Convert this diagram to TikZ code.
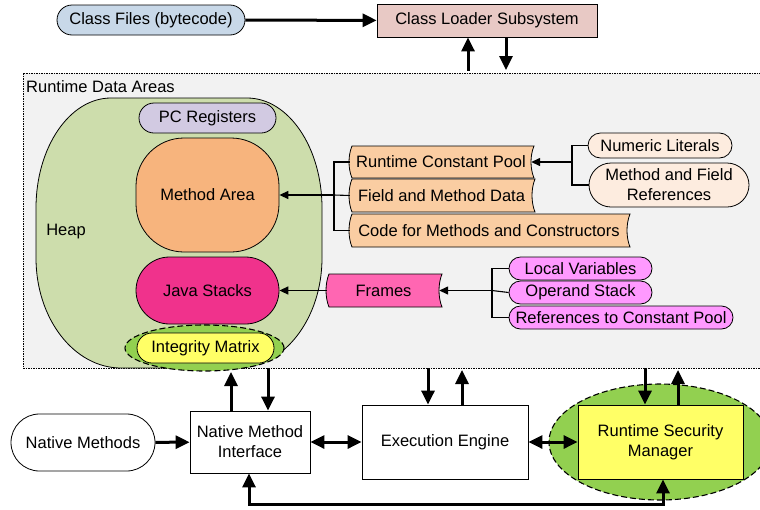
\documentclass[tikz,border=0pt]{standalone}
\usepackage{fontspec}
\setmainfont{Liberation Sans}
\usetikzlibrary{arrows.meta,shapes.geometric,shapes.misc,calc}

\definecolor{areagray}{RGB}{242,242,242}
\definecolor{heapgreen}{RGB}{205,221,172}
\definecolor{pclav}{RGB}{210,202,226}
\definecolor{methorange}{RGB}{247,180,125}
\definecolor{stackpink}{RGB}{240,50,140}
\definecolor{ringgreen}{RGB}{146,208,80}
\definecolor{softyellow}{RGB}{255,255,102}
\definecolor{poolpeach}{RGB}{250,205,162}
\definecolor{litpeach}{RGB}{253,236,223}
\definecolor{framepink}{RGB}{255,102,178}
\definecolor{varpink}{RGB}{255,153,255}
\definecolor{cfblue}{RGB}{200,216,232}
\definecolor{loaderrose}{RGB}{232,201,197}

\tikzset{
  box/.style={draw, line width=0.8pt, inner sep=0pt, align=center},
  pill/.style={box, rounded rectangle},
  ring/.style={draw, ellipse, dash pattern=on 6pt off 3pt, line width=1.1pt, fill=ringgreen, inner sep=0pt},
  bigtip/.tip={Triangle[length=14pt,width=13pt]},
  bigarrow/.style={line width=3pt, -bigtip},
  bigboth/.style={line width=3pt, bigtip-bigtip},
  thinline/.style={line width=1.1pt},
  thinarrow/.style={line width=1.4pt, -{Triangle[length=9pt,width=8pt]}},
  bannerline/.style={draw, line width=0.8pt},
}

% curved-sided banner: name, left, top, right, bottom, fill, text
\newcommand\tapebox[7]{%
  \draw[bannerline, fill=#6]
    ({#2+2},{#3}) .. controls ({#2-2},{#3+0.3*(#5-#3)}) and ({#2-2},{#5-0.3*(#5-#3)}) .. ({#2+2},{#5})
    -- ({#4+2},{#5}) .. controls ({#4-2},{#5-0.3*(#5-#3)}) and ({#4-2},{#3+0.3*(#5-#3)}) .. ({#4+2},{#3}) -- cycle;
  \node[inner sep=0pt, minimum width={(#4-#2)*1pt}, minimum height={(#5-#3)*1pt}]
    (#1) at ({(#2+#4)/2},{(#3+#5)/2}) {#7};
}

\begin{document}
\begin{tikzpicture}[x=1pt, y=-1pt, font=\fontsize{16.5}{20}\selectfont]
\useasboundingbox (0,0) rectangle (760,509);

% class files and loader
\node[pill, fill=cfblue, minimum width=188pt, minimum height=30pt] (cf) at (151,20) {Class Files (bytecode)};
\node[box, fill=loaderrose, minimum width=220pt, minimum height=33pt] (cls) at (487,20.5) {Class Loader Subsystem};
\draw[bigarrow] (cf) -- (cls);

% runtime data areas
\node[draw, fill=areagray, line width=0.6pt, dash pattern=on 1.5pt off 1pt,
      minimum width=750pt, minimum height=295pt, inner sep=0pt] (rda) at (398,220.5) {};
\node[anchor=west, inner sep=0pt] (rdalbl) at (26,87) {Runtime Data Areas};

% heap
\draw[line width=0.8pt, fill=heapgreen]
  (36,208) .. controls (36,147.3) and (69.6,98) .. (111,98)
  -- (247,98) .. controls (288.4,98) and (322,147.3) .. (322,208)
  -- (322,258) .. controls (322,318.7) and (283.9,368) .. (237,368)
  -- (121,368) .. controls (74.1,368) and (36,318.7) .. (36,258) -- cycle;
\node[inner sep=0pt] (heaplbl) at (66,232) {Heap};

\node[pill, fill=pclav, minimum width=137pt, minimum height=30pt] (pc) at (207.5,118) {PC Registers};
\node[box, fill=methorange, rounded corners=48pt, minimum width=143pt, minimum height=114pt] (meth) at (207.5,195) {Method Area};
\node[pill, fill=stackpink, minimum width=143pt, minimum height=67pt] (js) at (207.5,290.5) {Java Stacks};
\node[ring, minimum width=159pt, minimum height=46pt] (imring) at (204.5,348) {};
\node[pill, fill=softyellow, minimum width=137pt, minimum height=30pt] (im) at (205.5,348) {Integrity Matrix};

% method area contents
\tapebox{rcp}{350}{146}{532}{178}{poolpeach}{Runtime Constant Pool}
\tapebox{fmd}{350}{179}{533}{212}{poolpeach}{Field and Method Data}
\tapebox{code}{350}{214}{628}{247}{poolpeach}{Code for Methods and Constructors}
\coordinate (jm) at (334,195);
\draw[thinline] (rcp.west) -| (jm) |- (code.west);
\draw[thinline] (fmd.west) -- (jm);
\draw[thinarrow] (jm) -- (meth.east);

\node[pill, fill=litpeach, minimum width=144pt, minimum height=25pt] (lit) at (660,145.5) {Numeric Literals};
\node[pill, fill=litpeach, minimum width=160pt, minimum height=44pt] (refs) at (669,185) {Method and Field\\References};
\coordinate (jp) at (572,162);
\draw[thinline] (lit.west) -| (jp) |- (refs.west);
\draw[thinarrow] (jp) -- ($(rcp.east)+(-1,0)$);

% java stacks contents
\tapebox{fr}{327}{274}{440}{307}{framepink}{Frames}
\draw[thinarrow] (fr.west) -- (js.east);
\node[pill, fill=varpink, minimum width=143pt, minimum height=23pt] (lv) at (580.5,268.5) {Local Variables};
\node[pill, fill=varpink, minimum width=143pt, minimum height=23pt] (os) at (580.5,292.5) {Operand Stack};
\node[pill, fill=varpink, minimum width=224pt, minimum height=23pt] (rcpref) at (621,317.5) {References to Constant Pool};
\coordinate (jf) at (492,290.5);
\draw[thinline] (lv.west) -| (jf) |- (rcpref.west);
\draw[thinline] (os.west) -- (jf);
\draw[thinarrow] (jf) -- ($(fr.east)+(-1,0)$);

% execution components
\node[pill, fill=white, minimum width=144pt, minimum height=57pt] (nm) at (83,442.5) {Native Methods};
\node[box, fill=white, minimum width=120pt, minimum height=62pt] (nmi) at (250,442) {Native Method\\Interface};
\node[box, fill=white, minimum width=166pt, minimum height=74pt] (ee) at (445,442) {Execution Engine};
\node[ring, minimum width=222pt, minimum height=116pt] (rsmring) at (660,442) {};
\node[box, fill=softyellow, minimum width=165pt, minimum height=74pt] (rsm) at (660.5,442) {Runtime Security\\Manager};

\draw[bigarrow] (nm) -- (nmi);
\draw[bigboth] (nmi) -- (ee);
\draw[bigboth] (ee) -- (rsm);

% links to the loader and the data areas
\coordinate (clu) at (468,71);
\coordinate (cld) at (506,70);
\draw[bigarrow] (clu) -- (clu |- cls.south);
\draw[bigarrow] (cld |- cls.south) -- (cld);

\coordinate (nu) at (231,372);
\coordinate (nd) at (268,368);
\draw[bigarrow] (nu |- nmi.north) -- (nu);
\draw[bigarrow] (nd) -- (nd |- nmi.north);

\coordinate (ed) at (428,368);
\coordinate (eu) at (462,370);
\draw[bigarrow] (ed) -- (ed |- ee.north);
\draw[bigarrow] (eu |- ee.north) -- (eu);

\coordinate (sd) at (645,368);
\coordinate (su) at (678,370);
\draw[bigarrow] (sd) -- (sd |- rsm.north);
\draw[bigarrow] (su |- rsm.north) -- (su);

% feedback loop between the security manager and the native interface
\coordinate (lpa) at (249,504);
\coordinate (lpb) at (663,504);
\draw[bigboth, line join=miter] (lpa |- nmi.south) -- (lpa) -- (lpb) -- (lpb |- rsm.south);
\end{tikzpicture}
\end{document}
